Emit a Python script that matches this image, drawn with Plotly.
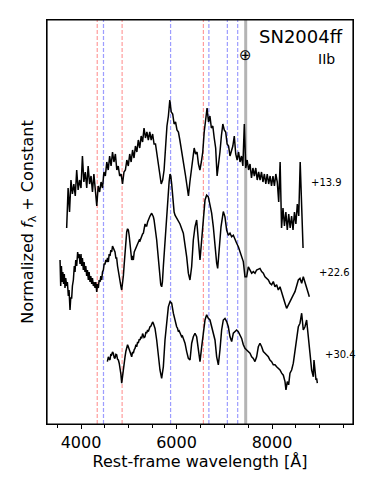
import numpy as np
import plotly.graph_objects as go

# espectro +13.9 d (amostrado a cada 30 A a partir de 3700 A)
wl1_start, wl1_step = 3700, 30
flux1 = [4.9, 5.9, 5.3, 6.1, 5.75, 6.0, 5.7, 6.35, 5.85, 6.1,
         5.9, 6.7, 6.05, 6.3, 5.9, 6.45, 6.0, 6.2, 5.8, 6.25,
         5.85, 5.45, 5.95, 5.8, 6.05, 5.9, 6.3, 6.2, 6.55, 6.35,
         6.7, 6.45, 6.8, 6.55, 6.75, 6.35, 6.45, 6.2, 6.25, 6.0,
         6.3, 6.35, 6.6, 6.45, 6.75, 6.55, 6.85, 6.65, 6.95, 6.8,
         7.1, 6.9, 7.2, 7.05, 7.4, 7.15, 7.3, 7.1, 7.3, 7.1,
         7.25, 7.0, 7.0, 6.75, 6.55, 6.25, 6.0, 6.1, 6.35, 6.9,
         7.45, 7.7, 8.1, 7.8, 7.75, 7.5, 7.55, 7.35, 7.3, 7.1,
         6.9, 6.6, 6.4, 6.2, 5.95, 5.7, 6.05, 6.3, 6.6, 6.9,
         6.75, 6.8, 6.5, 6.35, 6.55, 6.8, 7.3, 7.65, 7.9, 7.55,
         7.7, 7.4, 7.45, 7.15, 6.9, 6.2, 6.45, 6.8, 7.2, 7.5,
         7.35, 7.3, 7.0, 6.95, 6.7, 6.85, 6.95, 7.2, 6.75, 6.6,
         6.8, 6.55, 6.7, 6.45, 7.5, 6.4, 6.6, 6.35, 6.5, 6.15,
         6.4, 6.2, 6.4, 6.1, 6.3, 6.1, 6.3, 6.05, 6.25, 6.0,
         6.25, 6.0, 6.2, 5.95, 6.2, 5.95, 6.25, 6.05, 5.55, 6.55,
         4.9, 5.4, 4.95, 5.3, 4.85, 5.25, 4.9, 5.2, 4.85, 5.3,
         5.0, 5.5, 5.2, 6.55, 5.5, 4.4]
wl1 = wl1_start + wl1_step * np.arange(len(flux1))

# espectro +22.6 d
wl2 = [3561, 3575, 3590, 3605, 3620, 3635, 3650, 3665, 3680, 3700,
       3715, 3735, 3750, 3770, 3785, 3805, 3820, 3840, 3860, 3875,
       3890, 3910, 3930, 3945, 3960, 3980, 4000, 4014, 4030, 4049,
       4065, 4084, 4100, 4119, 4135, 4154, 4170, 4189, 4205, 4224,
       4240, 4259, 4275, 4294, 4310, 4329, 4345, 4363, 4380, 4398,
       4415, 4433, 4450, 4468, 4485, 4503, 4520, 4538, 4555, 4573,
       4590, 4608, 4625, 4643, 4660, 4678, 4695, 4712, 4730, 4747,
       4765, 4782, 4800, 4817, 4835, 4852, 4870, 4887, 4905, 4922,
       4940, 4957, 4975, 4992, 5010, 5027, 5045, 5061, 5080, 5096,
       5115, 5131, 5150, 5166, 5185, 5201, 5220, 5236, 5255, 5271,
       5290, 5306, 5325, 5341, 5360, 5376, 5395, 5410, 5445, 5480,
       5500, 5515, 5530, 5550, 5565, 5585, 5600, 5620, 5635, 5655,
       5670, 5690, 5705, 5725, 5740, 5759, 5775, 5794, 5810, 5829,
       5845, 5864, 5880, 5899, 5915, 5934, 5950, 5969, 6000, 6039,
       6073, 6143, 6178, 6213, 6248, 6282, 6317, 6352, 6387, 6422,
       6457, 6492, 6527, 6562, 6597, 6631, 6666, 6701, 6736, 6771,
       6806, 6841, 6862, 6897, 6932, 6980, 7015, 7050, 7085, 7120,
       7155, 7190, 7225, 7260, 7295, 7329, 7364, 7399, 7434, 7469,
       7504, 7539, 7574, 7609, 7644, 7678, 7748, 7783, 7818, 7853,
       7888, 7923, 7957, 7992, 8027, 8062, 8097, 8132, 8167, 8202,
       8237, 8272, 8306, 8341, 8376, 8411, 8446, 8481, 8516, 8551,
       8586, 8621, 8655, 8690, 8725, 8760, 8781]
flux2 = [4.10, 3.45, 3.95, 3.55, 3.80, 3.50, 3.75, 3.40, 3.65, 3.45,
         3.55, 3.20, 3.35, 2.85, 3.15, 3.15, 3.45, 3.60, 3.95, 3.80,
         4.10, 3.95, 4.30, 4.15, 4.25, 4.00, 4.25, 3.95, 4.15, 3.85,
         4.05, 3.80, 3.95, 3.70, 3.85, 3.60, 3.80, 3.55, 3.70, 3.50,
         3.65, 3.45, 3.55, 3.40, 3.55, 3.30, 3.50, 3.40, 3.60, 3.55,
         3.70, 3.60, 3.80, 3.85, 4.00, 4.00, 4.10, 4.05, 4.15, 4.05,
         4.25, 4.20, 4.35, 4.30, 4.45, 4.40, 4.38, 4.30, 4.15, 4.15,
         3.95, 3.80, 3.65, 3.55, 3.45, 3.35, 3.50, 3.70, 4.00, 4.35,
         4.65, 4.80, 4.88, 4.85, 4.70, 4.45, 4.20, 4.10, 4.20, 4.10,
         4.30, 4.35, 4.40, 4.45, 4.50, 4.52, 4.60, 4.58, 4.65, 4.68,
         4.75, 4.77, 4.90, 5.00, 4.95, 4.95, 5.05, 5.10, 5.20, 5.27,
         5.22, 5.18, 5.10, 4.95, 4.80, 4.60, 4.40, 4.10, 3.85, 3.60,
         3.48, 3.43, 3.55, 3.95, 4.25, 4.60, 4.95, 5.20, 5.50, 5.75,
         6.05, 6.25, 6.20, 6.00, 5.80, 5.43, 5.30, 5.22, 5.15, 5.08,
         5.00, 4.77, 4.52, 4.18, 3.77, 3.60, 3.93, 4.60, 4.93, 5.10,
         4.60, 4.10, 4.60, 5.18, 5.60, 5.72, 5.68, 5.48, 5.27, 4.93,
         4.43, 4.02, 3.89, 4.35, 4.93, 5.31, 5.18, 4.85, 4.72, 4.77,
         4.68, 4.72, 4.60, 4.52, 4.43, 4.31, 4.18, 4.06, 3.68, 3.68,
         3.93, 3.85, 3.77, 3.81, 3.77, 3.85, 3.89, 3.81, 3.77, 3.68,
         3.64, 3.60, 3.52, 3.48, 3.56, 3.43, 3.48, 3.35, 3.43, 3.27,
         3.18, 3.02, 2.89, 2.98, 3.06, 3.18, 3.23, 3.31, 3.43, 3.60,
         3.64, 3.52, 3.68, 3.56, 3.43, 3.27, 3.18]

# espectro +30.4 d
wl3 = [4552, 4573, 4590, 4607, 4625, 4642, 4660, 4677, 4695, 4712,
       4730, 4747, 4765, 4782, 4800, 4817, 4835, 4852, 4870, 4887,
       4905, 4922, 4940, 4956, 4975, 4991, 5010, 5026, 5045, 5061,
       5080, 5096, 5115, 5131, 5150, 5166, 5185, 5201, 5220, 5236,
       5255, 5271, 5290, 5305, 5320, 5340, 5360, 5375, 5395, 5410,
       5430, 5445, 5465, 5480, 5500, 5515, 5535, 5550, 5585, 5620,
       5654, 5689, 5724, 5759, 5794, 5829, 5864, 5899, 5934, 5969,
       6003, 6020, 6038, 6055, 6073, 6090, 6108, 6125, 6143, 6160,
       6178, 6213, 6248, 6283, 6318, 6352, 6387, 6422, 6457, 6492,
       6527, 6562, 6597, 6631, 6666, 6701, 6736, 6771, 6806, 6841,
       6876, 6910, 6945, 6980, 7015, 7050, 7085, 7120, 7155, 7190,
       7225, 7259, 7294, 7329, 7364, 7399, 7434, 7469, 7504, 7539,
       7574, 7608, 7643, 7678, 7713, 7748, 7783, 7818, 7853, 7888,
       7923, 7957, 7992, 8027, 8062, 8097, 8132, 8167, 8202, 8237,
       8272, 8292, 8320, 8348, 8376, 8411, 8446, 8481, 8516, 8551,
       8586, 8621, 8655, 8690, 8725, 8760, 8795, 8830, 8865, 8879,
       8900, 8921, 8935, 8949]
flux3 = [1.56, 1.68, 1.62, 1.60, 1.75, 1.73, 1.80, 1.77, 1.66, 1.64,
         1.74, 1.73, 1.62, 1.60, 1.52, 1.43, 1.25, 1.02, 1.22, 1.35,
         1.55, 1.68, 1.82, 1.89, 1.98, 1.93, 1.86, 1.81, 1.72, 1.68,
         1.80, 1.77, 1.86, 1.89, 1.98, 1.93, 2.05, 2.02, 2.12, 2.10,
         2.18, 2.14, 2.26, 2.22, 2.16, 2.18, 2.30, 2.27, 2.35, 2.31,
         2.40, 2.43, 2.45, 2.48, 2.55, 2.52, 2.45, 2.39, 2.10, 1.68,
         1.35, 1.14, 1.43, 2.10, 2.60, 2.93, 3.06, 3.02, 2.77, 2.56,
         2.43, 2.40, 2.31, 2.33, 2.27, 2.22, 2.18, 2.20, 2.14, 2.08,
         2.02, 1.81, 1.64, 1.60, 2.02, 2.18, 2.27, 2.18, 1.85, 1.56,
         1.93, 2.35, 2.60, 2.73, 2.64, 2.60, 2.43, 2.31, 2.10, 1.68,
         1.48, 1.85, 2.35, 2.60, 2.64, 2.56, 2.43, 2.18, 2.06, 2.27,
         2.31, 2.35, 2.31, 2.22, 2.14, 1.98, 1.89, 1.85, 1.81, 1.77,
         1.68, 1.64, 1.56, 1.68, 1.93, 2.02, 1.93, 1.81, 1.77, 1.73,
         1.68, 1.60, 1.56, 1.48, 1.48, 1.43, 1.39, 1.35, 1.27, 1.22,
         1.06, 0.85, 1.06, 0.98, 1.27, 1.35, 1.52, 1.85, 2.18, 2.43,
         2.52, 2.77, 2.35, 2.43, 2.60, 2.10, 1.77, 1.35, 1.18, 1.60,
         1.27, 1.10, 1.14, 1.02]

fases = ["+13.9", "+22.6", "+30.4"]
fase_pos = [(8774, 6.03), (8942, 3.78), (9068, 1.73)]

# linhas de referencia (H em vermelho, He I em azul) e telurica
linhas_h = [4340, 4861, 6563]
linhas_he = [4471, 5876, 6678, 7065, 7281]
telurica = 7449

fonte = "DejaVu Sans"

fig = go.Figure()
for wl, fl in [(wl1, flux1), (wl2, flux2), (wl3, flux3)]:
    fig.add_trace(go.Scatter(x=wl, y=fl, mode="lines",
                             line=dict(color="black", width=1.5),
                             showlegend=False, hoverinfo="skip"))

for lam in linhas_h:
    fig.add_shape(type="line", x0=lam, x1=lam, yref="paper", y0=0, y1=1,
                  line=dict(color="rgba(255,60,60,0.5)", width=1.2, dash="4px,2px"),
                  layer="below")
for lam in linhas_he:
    fig.add_shape(type="line", x0=lam, x1=lam, yref="paper", y0=0, y1=1,
                  line=dict(color="rgba(60,60,255,0.5)", width=1.2, dash="4px,2px"),
                  layer="below")
fig.add_shape(type="line", x0=telurica, x1=telurica, yref="paper", y0=0, y1=1,
              line=dict(color="#b4b4b4", width=3), layer="below")

# moldura do grafico
fig.add_shape(type="rect", xref="paper", yref="paper", x0=0, x1=1, y0=0, y1=1,
              line=dict(color="black", width=1.2), fillcolor="rgba(0,0,0,0)")

for txt, (x, y) in zip(fases, fase_pos):
    fig.add_annotation(x=x, y=y, text=txt, showarrow=False, xanchor="left",
                       yanchor="middle", font=dict(family=fonte, size=10, color="black"))

fig.add_annotation(x=telurica, y=0.913, yref="paper", text="⊕", showarrow=False,
                   xanchor="center", yanchor="middle",
                   font=dict(family=fonte, size=15, color="black"))
fig.add_annotation(x=0.974, y=0.96, xref="paper", yref="paper", text="SN2004ff",
                   showarrow=False, xanchor="right", yanchor="middle",
                   font=dict(family=fonte, size=18, color="black"))
fig.add_annotation(x=0.913, y=0.903, xref="paper", yref="paper", text="IIb",
                   showarrow=False, xanchor="center", yanchor="middle",
                   font=dict(family=fonte, size=14, color="black"))

fig.update_layout(
    width=374, height=486,
    margin=dict(l=47, r=21, t=20, b=62),
    paper_bgcolor="white", plot_bgcolor="white",
    font=dict(family=fonte, color="black"),
    xaxis=dict(range=[3288, 9696], showgrid=False, zeroline=False,
               showline=True, linecolor="black", linewidth=1.2, mirror=True,
               ticks="outside", ticklen=4, tickcolor="black", dtick=2000, tick0=0,
               tickfont=dict(size=16), automargin=False,
               minor=dict(ticks="outside", ticklen=2.5, dtick=500, tickcolor="black"),
               title=dict(text="Rest-frame wavelength [Å]", font=dict(size=16), standoff=0)),
    yaxis=dict(range=[0, 10.1], showgrid=False, zeroline=False, showticklabels=False,
               showline=True, linecolor="black", linewidth=1.2, mirror=True, ticks="",
               automargin=False,
               title=dict(text="Normalized <i>f</i><sub>λ</sub> + Constant",
                          font=dict(size=16), standoff=8)),
)

# a pagina tem margem de 8px no body; zera para a figura ficar no canto
fig.write_html("out.html", config={"displayModeBar": False},
               post_script="document.body.style.margin='0px';")
